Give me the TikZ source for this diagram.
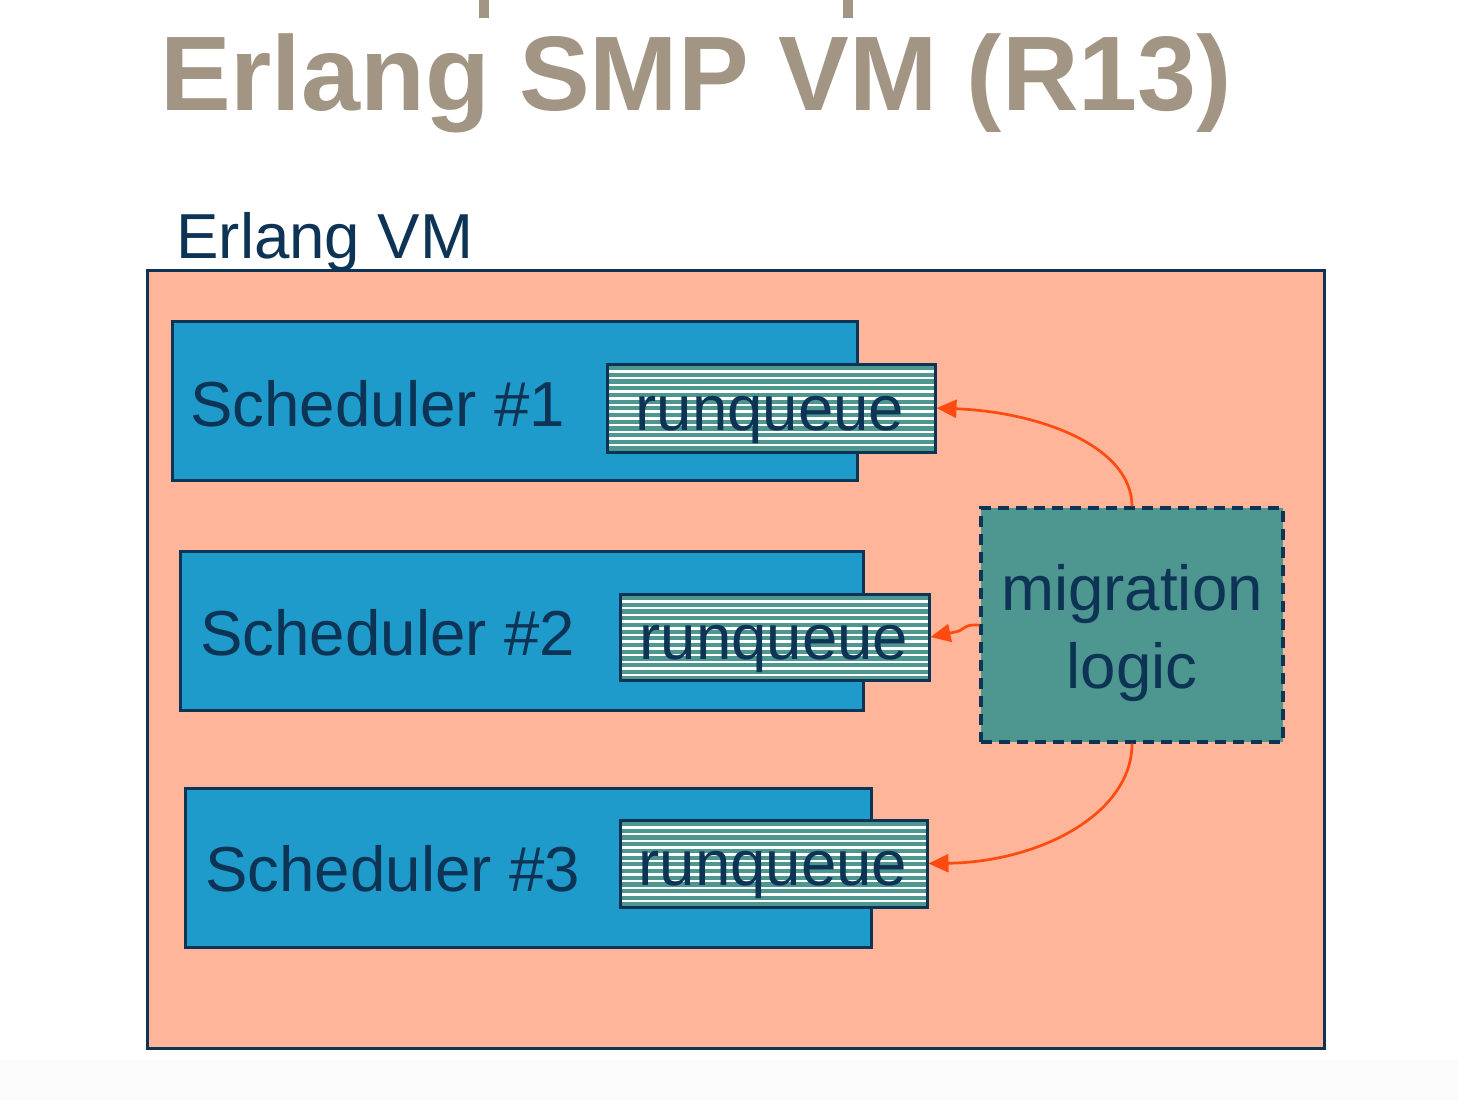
\documentclass[tikz,border=0pt]{standalone}
\usepackage{fontspec}
\setmainfont{Liberation Sans}
\usetikzlibrary{fit,arrows.meta}
\definecolor{titlec}{HTML}{A39584}
\definecolor{navy}{HTML}{0D3355}
\definecolor{salmon}{HTML}{FFB59A}
\definecolor{schedc}{HTML}{1F9BCB}
\definecolor{tealc}{HTML}{4E9690}
\definecolor{arrowc}{HTML}{FF4A10}
\definecolor{stripc}{HTML}{FCFCFC}
\newcommand\runqbox[5]{% name, x1, y1, x2, y2
  \fill[white] (#2,#3) rectangle (#4,#5);
  \begin{scope}
    \clip (#2,#3) rectangle (#4,#5);
    \foreach \yy in {0,6.7,...,100}
      \fill[tealc] (#2,#3+\yy+2) rectangle (#4,#3+\yy+6.2);
  \end{scope}
  \node[boxline, fit={(#2,#3) (#4,#5)}] (#1) {};
}
\begin{document}
\begin{tikzpicture}[x=0.5pt,y=-0.5pt,
  boxline/.style={draw=navy, line width=1.5pt, inner sep=0pt},
  bigtext/.style={font=\fontsize{31.8}{39}\selectfont, text=navy, inner sep=0pt},
  flow/.style={draw=arrowc, line width=1.35pt, -{Triangle[length=10pt,width=9pt]}}]
\useasboundingbox (0,0) rectangle (1458,1100);
\fill[white] (0,0) rectangle (1458,1100);
\fill[stripc] (0,1060) rectangle (1458,1100);
% title
\fill[titlec] (479,0) rectangle (489,18);
\fill[titlec] (843,0) rectangle (853,18);
\node[anchor=base, font=\fontsize{53}{60}\selectfont\bfseries, text=titlec, inner sep=0pt] (title) at (696,110) {Erlang SMP VM (R13)};
% VM
\node[bigtext, anchor=base west] (vmlabel) at (176,258) {Erlang VM};
\node[boxline, fill=salmon, fit={(147,270) (1324,1048)}] (vm) {};
% schedulers
\node[boxline, fill=schedc, fit={(172,321) (857,480)}] (s1) {};
\node[boxline, fill=schedc, fit={(180,551) (863,710)}] (s2) {};
\node[boxline, fill=schedc, fit={(185,788) (871,947)}] (s3) {};
\node[bigtext, anchor=base west] (s1t) at (190,426) {Scheduler \#1};
\node[bigtext, anchor=base west] (s2t) at (200,655) {Scheduler \#2};
\node[bigtext, anchor=base west] (s3t) at (205,891) {Scheduler \#3};
% runqueues
\runqbox{rq1}{607}{364}{935}{452}
\runqbox{rq2}{620}{594}{929}{680}
\runqbox{rq3}{620}{820}{927}{907}
\node[bigtext, anchor=base] (rq1t) at (770,430) {runqueue};
\node[bigtext, anchor=base] (rq2t) at (774,659) {runqueue};
\node[bigtext, anchor=base] (rq3t) at (773,885) {runqueue};
% migration logic
\node[draw=navy, line width=1.6pt, dash pattern=on 5.5pt off 3.5pt, fill=tealc, inner sep=0pt, fit={(981,508) (1283,742)}] (mig) {};
\node[bigtext, anchor=base] (migt1) at (1132,610) {migration};
\node[bigtext, anchor=base] (migt2) at (1132,688) {logic};
% arrows
\draw[flow] (mig.north) .. controls +(0,-60) and (1040,412) .. (rq1.east);
\draw[flow] (mig.west) .. controls (962,624) and (966,630) .. (955,632) -- (rq2.east);
\draw[flow] (mig.south) .. controls +(0,70) and (1040,862) .. (rq3.east);
\end{tikzpicture}
\end{document}
